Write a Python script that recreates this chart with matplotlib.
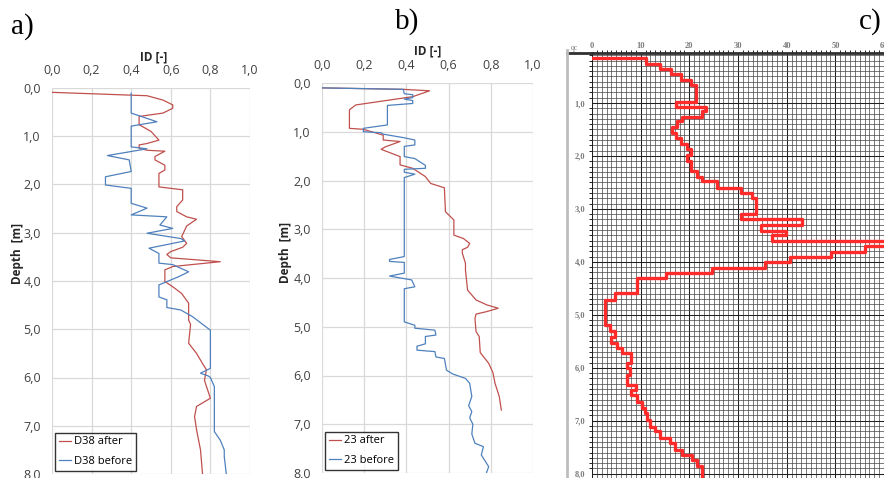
import matplotlib
matplotlib.use("Agg")
import matplotlib.pyplot as plt
from matplotlib.lines import Line2D
from matplotlib.ticker import MultipleLocator, FuncFormatter
import numpy as np

# --- a) profil D38 (ID vs depth) ---
a_after_id = [0.0, 0.48, 0.56, 0.61, 0.61, 0.56, 0.44, 0.44, 0.50, 0.54, 0.48, 0.44, 0.44, 0.48,
              0.57, 0.52, 0.52, 0.57, 0.57, 0.54, 0.54, 0.66, 0.66, 0.63, 0.63, 0.68, 0.73, 0.68,
              0.655, 0.68, 0.66, 0.60, 0.58, 0.60, 0.85, 0.61, 0.57, 0.57, 0.61, 0.655, 0.69, 0.69,
              0.70, 0.69, 0.73, 0.76, 0.78, 0.77, 0.80, 0.73, 0.72, 0.73, 0.75, 0.76]
a_after_d = [0.09, 0.16, 0.25, 0.35, 0.42, 0.52, 0.59, 0.76, 0.90, 1.08, 1.15, 1.18, 1.25, 1.29,
             1.31, 1.42, 1.49, 1.60, 1.70, 1.77, 2.05, 2.11, 2.32, 2.46, 2.56, 2.67, 2.72, 2.86,
             3.08, 3.22, 3.30, 3.39, 3.45, 3.52, 3.60, 3.70, 3.77, 4.01, 4.12, 4.26, 4.46, 4.81,
             4.90, 5.29, 5.50, 5.71, 5.84, 6.06, 6.43, 6.60, 6.81, 7.08, 7.50, 7.99]

a_before_id = [0.40, 0.40, 0.53, 0.40, 0.40, 0.48, 0.28, 0.39, 0.40, 0.27, 0.27, 0.40, 0.40, 0.48,
               0.40, 0.58, 0.545, 0.61, 0.48, 0.65, 0.67, 0.49, 0.54, 0.54, 0.61, 0.69, 0.64, 0.57,
               0.54, 0.54, 0.58, 0.58, 0.65, 0.71, 0.80, 0.80, 0.75, 0.79, 0.80, 0.82, 0.82, 0.85,
               0.87, 0.87, 0.88]
a_before_d = [0.11, 0.52, 0.70, 0.79, 1.22, 1.26, 1.40, 1.49, 1.73, 1.84, 2.01, 2.08, 2.39, 2.49,
              2.63, 2.67, 2.84, 2.91, 3.01, 3.12, 3.17, 3.32, 3.43, 3.63, 3.66, 3.81, 3.91, 4.03,
              4.08, 4.33, 4.39, 4.55, 4.60, 4.74, 5.02, 5.81, 5.91, 5.97, 6.00, 6.19, 7.12, 7.30,
              7.50, 7.64, 7.99]

# --- b) profil 23 ---
b_after_id = [0.0, 0.385, 0.51, 0.43, 0.16, 0.13, 0.13, 0.196, 0.29, 0.29, 0.37, 0.30, 0.28, 0.37,
              0.37, 0.43, 0.49, 0.515, 0.58, 0.585, 0.625, 0.625, 0.67, 0.70, 0.69, 0.665, 0.665,
              0.68, 0.68, 0.69, 0.73, 0.78, 0.835, 0.78, 0.73, 0.725, 0.73, 0.745, 0.75, 0.79,
              0.81, 0.82, 0.84, 0.85]
b_after_d = [0.10, 0.13, 0.16, 0.28, 0.45, 0.55, 0.93, 0.95, 1.07, 1.17, 1.20, 1.31, 1.36, 1.51,
             1.68, 1.75, 1.92, 2.06, 2.15, 2.64, 2.81, 3.12, 3.19, 3.29, 3.37, 3.42, 3.49,
             3.70, 3.84, 4.25, 4.45, 4.55, 4.62, 4.69, 4.74, 4.83, 5.10, 5.20, 5.53, 5.75,
             5.94, 6.16, 6.43, 6.71]

b_before_id = [0.0, 0.385, 0.39, 0.43, 0.43, 0.39, 0.43, 0.43, 0.31, 0.31, 0.196, 0.196, 0.28, 0.29,
               0.385, 0.44, 0.44, 0.39, 0.39, 0.44, 0.49, 0.49, 0.39, 0.39, 0.44, 0.39, 0.39, 0.32,
               0.32, 0.39, 0.39, 0.32, 0.425, 0.44, 0.39, 0.39, 0.44, 0.44, 0.535, 0.54, 0.49, 0.49,
               0.45, 0.45, 0.535, 0.54, 0.58, 0.59, 0.62, 0.68, 0.70, 0.71, 0.695, 0.71, 0.70,
               0.715, 0.71, 0.725, 0.765, 0.755, 0.79, 0.78]
b_before_d = [0.10, 0.13, 0.22, 0.24, 0.30, 0.33, 0.36, 0.42, 0.46, 0.86, 0.93, 1.00, 1.02, 1.05,
              1.12, 1.17, 1.27, 1.30, 1.51, 1.55, 1.69, 1.75, 1.77, 1.83, 1.87, 1.94, 3.56, 3.62,
              3.66, 3.68, 3.90, 3.96, 4.04, 4.18, 4.22, 4.90, 4.97, 5.03, 5.07, 5.17, 5.20, 5.35,
              5.40, 5.48, 5.51, 5.62, 5.65, 5.89, 5.97, 6.06, 6.16, 6.43, 6.62, 6.74, 6.87,
              7.00, 7.20, 7.39, 7.46, 7.63, 7.87, 7.99]

# --- c) sondowanie (qc), warstwy: strop warstwy [m] i wartosc ---
c_top = [0.16, 0.16, 0.26, 0.36, 0.46, 0.57, 0.67, 0.98, 1.07, 1.15, 1.26, 1.35, 1.46, 1.56, 1.67,
         1.77, 1.87, 1.98, 2.09, 2.28, 2.39, 2.48, 2.60, 2.70, 2.80, 3.09, 3.19, 3.30, 3.41, 3.49,
         3.60, 3.70, 3.81, 3.90, 4.01, 4.12, 4.21, 4.31, 4.59, 4.72, 5.19, 5.31, 5.42, 5.53, 5.63,
         5.72, 5.91, 6.01, 6.13, 6.32, 6.42, 6.51, 6.64, 6.76, 6.86, 6.98, 7.11, 7.20, 7.33, 7.42,
         7.55, 7.64, 7.74, 7.86, 8.10]
c_val = [0.0, 11.1, 14.0, 16.2, 18.2, 20.3, 21.4, 17.2, 23.4, 22.5, 18.4, 17.4, 16.4, 17.2, 18.2,
         19.5, 20.4, 19.5, 20.4, 21.5, 22.5, 25.6, 30.7, 32.8, 33.8, 30.7, 43.1, 34.8, 39.8, 36.9,
         64.0, 56.1, 49.2, 40.7, 35.5, 24.6, 15.3, 9.2, 4.7, 2.7, 3.7, 4.7, 4.0, 5.1, 6.1,
         8.0, 7.1, 7.8, 7.1, 9.0, 8.1, 9.2, 10.2, 10.9, 11.4, 12.0, 12.9, 14.0, 16.0, 17.0,
         18.4, 20.5, 21.5, 22.5, 23.5]

red = '#c0504d'
blue = '#4f81bd'
W, H = 884, 478
fig = plt.figure(figsize=(W / 100, H / 100), dpi=100)


def px_axes(l, t, r, b):
    return fig.add_axes([l / W, 1 - b / H, (r - l) / W, (b - t) / H])


def excel_axes(ax, lab1, lab2, l1, l2):
    ax.plot(l1[0], l1[1], color=red, lw=0.9, label=lab1)
    ax.plot(l2[0], l2[1], color=blue, lw=0.9, label=lab2)
    ax.set_xlim(0, 1.0)
    ax.set_ylim(8, 0)
    ax.xaxis.set_major_locator(MultipleLocator(0.2))
    ax.yaxis.set_major_locator(MultipleLocator(1.0))
    fmt = FuncFormatter(lambda v, p: ('%.1f' % v).replace('.', ','))
    ax.xaxis.set_major_formatter(fmt)
    ax.yaxis.set_major_formatter(fmt)
    ax.xaxis.tick_top()
    ax.tick_params(length=0, labelsize=9, labelcolor='#404040', pad=8)
    ax.grid(True, color='#d9d9d9', lw=0.9)
    ax.set_axisbelow(True)
    for s in ax.spines.values():
        s.set_visible(False)
    for lab in ax.get_xticklabels() + ax.get_yticklabels():
        lab.set_fontfamily('Open Sans')
    leg = ax.legend(loc='lower left', frameon=True, fancybox=False,
                    handlelength=1.1, handletextpad=0.25, borderpad=0.35, labelspacing=0.75,
                    borderaxespad=0.3, prop={'family': 'Open Sans', 'size': 8})
    leg.get_frame().set_edgecolor('black')
    leg.get_frame().set_linewidth(1.0)


axa = px_axes(52, 88, 250, 474)
excel_axes(axa, 'D38 after', 'D38 before', (a_after_id, a_after_d), (a_before_id, a_before_d))
axb = px_axes(322, 83, 533, 473)
excel_axes(axb, '23 after', '23 before', (b_after_id, b_after_d), (b_before_id, b_before_d))

for (x, y) in [(154, 57), (428, 51)]:
    fig.text(x / W, 1 - y / H, 'ID [-]', ha='center', va='center', fontsize=8.5,
             fontweight='bold', family='Open Sans', color='#262626')
for (x, y) in [(17, 253), (286, 252)]:
    fig.text(x / W, 1 - y / H, 'Depth  [m]', ha='center', va='center', rotation=90,
             fontsize=8.5, fontweight='bold', family='Open Sans', color='#262626')

# --- c) ---
axc = px_axes(592, 53, 884, 478)
axc.set_xlim(0, 60)
axc.set_ylim(8.08, 0.057)
axc.xaxis.set_minor_locator(MultipleLocator(1))
axc.xaxis.set_major_locator(MultipleLocator(10))
axc.yaxis.set_minor_locator(MultipleLocator(0.1))
axc.yaxis.set_major_locator(MultipleLocator(1.0))
axc.grid(True, which='minor', color='#454545', lw=0.5)
axc.grid(True, which='major', color='#202020', lw=0.75)
axc.set_axisbelow(True)
axc.plot(c_val, c_top, color='#ff2a2a', lw=2.4, drawstyle='steps-pre', zorder=3)
axc.xaxis.tick_top()
axc.xaxis.set_major_formatter(FuncFormatter(lambda v, p: '%d' % v))
axc.yaxis.set_major_formatter(FuncFormatter(lambda v, p: ('%.1f' % v).replace('.', ',') if v > 0 else ''))
axc.tick_params(length=0, labelsize=6, labelcolor='#7a7a7a', pad=2)
axc.tick_params(axis='y', pad=5)
for lab in axc.get_xticklabels() + axc.get_yticklabels():
    lab.set_fontfamily('Liberation Serif')
    lab.set_fontweight('bold')
for k, s in axc.spines.items():
    s.set_visible(k == 'top')
axc.spines['top'].set_linewidth(2.0)
axc.spines['top'].set_color('#303030')
fig.text(574 / W, 1 - 48 / H, 'qc', fontsize=5.5, color='#7a7a7a', family='Liberation Serif',
         ha='center', va='center')
fig.add_artist(Line2D([567 / W, 592 / W], [1 - 53 / H] * 2, color='#303030', lw=2.0))
fig.add_artist(Line2D([567 / W] * 2, [0, 1 - 50 / H], color='#bdbdbd', lw=2.0))

# etykiety paneli
for (x, y, s) in [(22, 27, 'a)'), (407, 22, 'b)'), (870, 22, 'c)')]:
    fig.text(x / W, 1 - y / H, s, ha='center', va='center', fontsize=21,
             family='Liberation Serif')

fig.savefig('out.png', dpi=100)
